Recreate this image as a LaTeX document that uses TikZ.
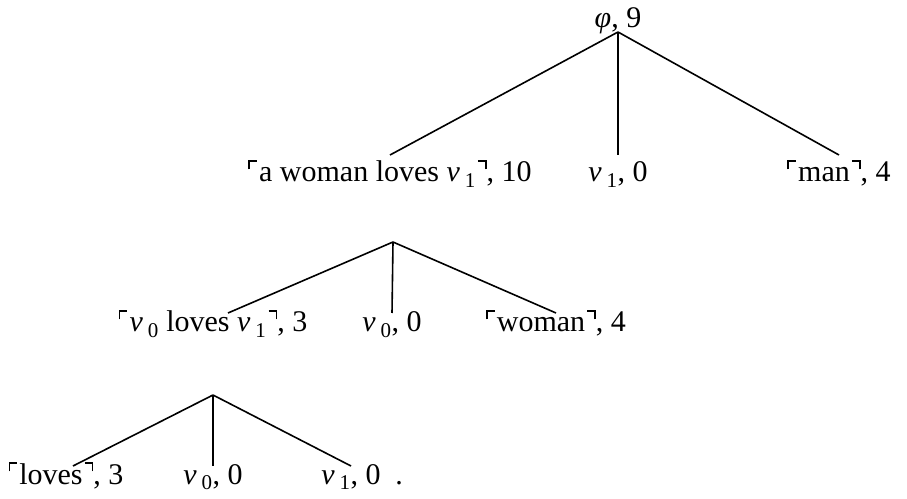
\documentclass[tikz,border=0pt]{standalone}
\usepackage{fontspec}
\setmainfont{Liberation Serif}
\newcommand\qL{\makebox[0.36em][l]{\rule[0.42em]{0.05em}{0.3em}\rule[0.67em]{0.24em}{0.05em}}}
\newcommand\qR{\makebox[0.36em][r]{\rule[0.67em]{0.24em}{0.05em}\rule[0.42em]{0.05em}{0.3em}}}
\newcommand\vs[1]{\textit{v}\,\textsubscript{#1}}
\begin{document}
\begin{tikzpicture}[x=1bp,y=-1bp,
  lab/.style={inner sep=0pt, outer sep=0pt, anchor=base, text depth=0.2em,
    font=\fontsize{30bp}{36bp}\selectfont},
  rowA/.style={lab, text height=27bp},
  rowB/.style={lab, text height=19bp},
  rowC/.style={lab, text height=18bp},
  edge/.style={line width=1.6bp}]
\useasboundingbox (0,0) rectangle (907,499);
% tree 1
\node[lab, anchor=south, text depth=4bp] (t) at (618,32) {\textit{φ}, 9};
\node[rowA] (a1) at (390,182) {\qL a woman loves \vs{1}\qR, 10};
\node[rowA] (a2) at (618,182) {\vs{1}, 0};
\node[rowA] (a3) at (839,182) {\qL man\qR, 4};
\draw[edge] (t.south) -- (a1.north);
\draw[edge] (t.south) -- (a2.north);
\draw[edge] (t.south) -- (a3.north);
% tree 2
\coordinate (r2) at (393,242);
\node[rowB] (b1) at (213,332) {\qL\vs{0} loves \vs{1}\qR, 3};
\node[rowB] (b2) at (392,332) {\vs{0}, 0};
\node[rowB] (b3) at (556,332) {\qL woman\qR, 4};
\draw[edge] (r2) -- ([xshift=15bp]b1.north);
\draw[edge] (r2) -- (b2.north);
\draw[edge] (r2) -- (b3.north);
% tree 3
\coordinate (r3) at (213,395);
\node[rowC] (c1) at (66,484) {\qL loves\qR, 3};
\node[rowC] (c2) at (213,484) {\vs{0}, 0};
\node[rowC] (c3) at (351,484) {\vs{1}, 0};
\node[lab] (dot) at (399,484) {.};
\draw[edge] (r3) -- ([xshift=7bp]c1.north);
\draw[edge] (r3) -- (c2.north);
\draw[edge] (r3) -- (c3.north);
\end{tikzpicture}
\end{document}
